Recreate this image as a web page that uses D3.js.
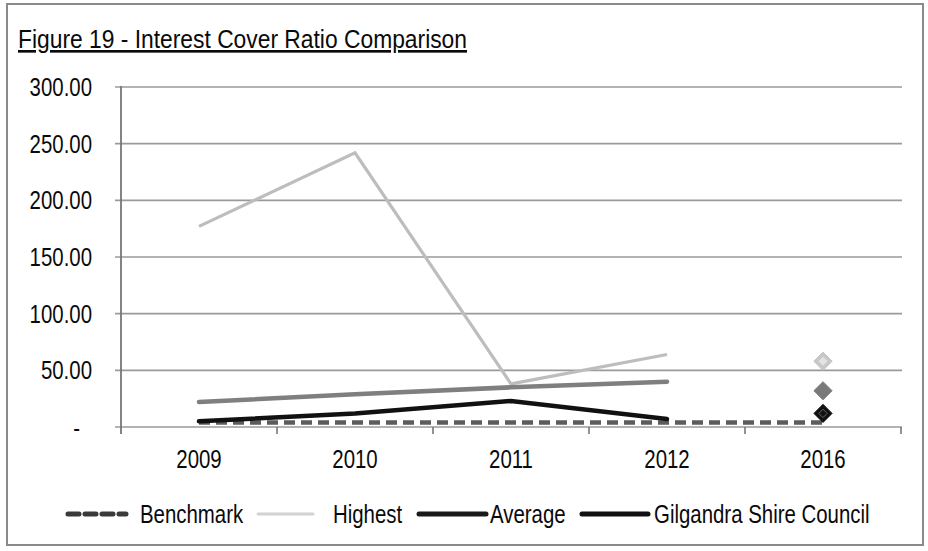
<!DOCTYPE html>
<html>
<head>
<meta charset="utf-8">
<script src="https://cdn.jsdelivr.net/npm/d3@7"></script>
<style>
  html, body { margin: 0; padding: 0; background: #fff; }
  svg text { font-family: "Liberation Sans", Arial, sans-serif; fill: #0a0a0a; }
</style>
</head>
<body>
<svg id="chart" width="928" height="551"></svg>
<script>
// Financial years shown on the x axis
const years = ["2009", "2010", "2011", "2012", "2016"];
const lineYears = ["2009", "2010", "2011", "2012"];

// Interest cover ratio by series (2009–2012)
const highest = [177, 242, 38, 64];
const average = [22, 29, 35, 40];
const gilgandra = [5, 12, 23, 7];
// Benchmark runs through every year including 2016
const benchmark = [4, 4, 4, 4, 4];

// 2016 projections, shown as diamond markers
const highest2016 = 58;
const average2016 = 32;
const gilgandra2016 = 12;

const yTicks = [0, 50, 100, 150, 200, 250, 300];
const yTickLabels = ["-", "50.00", "100.00", "150.00", "200.00", "250.00", "300.00"];

const legendItems = ["Benchmark", "Highest", "Average", "Gilgandra Shire Council"];

const svg = d3.select("#chart");

// Outer frame
svg.append("rect")
  .attr("x", 7).attr("y", 4).attr("width", 916).attr("height", 541)
  .attr("fill", "none").attr("stroke", "#8a8a8a").attr("stroke-width", 2);

// Title (underlined)
svg.append("text")
  .attr("class", "title")
  .attr("x", 18).attr("y", 48)
  .attr("font-size", 26.5)
  .attr("text-decoration", "underline")
  .attr("textLength", 449)
  .attr("lengthAdjust", "spacingAndGlyphs")
  .text("Figure 19 - Interest Cover Ratio Comparison");

const x = d3.scaleBand().domain(years).range([121, 901]).padding(0);
const y = d3.scaleLinear().domain([0, 300]).range([427, 87]);
const cx = d => x(d) + x.bandwidth() / 2;

// Horizontal gridlines with short ticks left of the axis
svg.append("g").selectAll("line").data(yTicks).join("line")
  .attr("x1", 115).attr("x2", 902)
  .attr("y1", d => y(d)).attr("y2", d => y(d))
  .attr("stroke", "#9a9a9a").attr("stroke-width", 1.6);

// Y axis line
svg.append("line")
  .attr("x1", 121).attr("x2", 121).attr("y1", 86).attr("y2", 434)
  .attr("stroke", "#777").attr("stroke-width", 1.8);

// X axis ticks at category boundaries
const boundaries = years.map(d => x(d) + x.bandwidth());
svg.append("g").selectAll("line").data(boundaries).join("line")
  .attr("x1", d => d).attr("x2", d => d)
  .attr("y1", 427).attr("y2", 434)
  .attr("stroke", "#777").attr("stroke-width", 1.6);

// Y tick labels
svg.append("g").attr("class", "narrow").selectAll("text").data(yTicks).join("text")
  .attr("x", (d, i) => i === 0 ? 80 : 92)
  .attr("y", (d, i) => y(d) + (i === 0 ? 10 : 9))
  .attr("text-anchor", "end")
  .attr("font-size", 26)
  .text((d, i) => yTickLabels[i]);

// X tick labels
svg.append("g").attr("class", "narrow").selectAll("text").data(years).join("text")
  .attr("x", d => cx(d))
  .attr("y", 468)
  .attr("text-anchor", "middle")
  .attr("font-size", 26)
  .text(d => d);

const line = d3.line().x(d => cx(d[0])).y(d => y(d[1]));

// Benchmark dashed line
svg.append("path")
  .attr("d", line(years.map((d, i) => [d, benchmark[i]])))
  .attr("fill", "none").attr("stroke", "#5c5c5c")
  .attr("stroke-width", 4.5).attr("stroke-dasharray", "11,6");

// Highest
svg.append("path")
  .attr("d", line(lineYears.map((d, i) => [d, highest[i]])))
  .attr("fill", "none").attr("stroke", "#bdbdbd")
  .attr("stroke-width", 3.2).attr("stroke-linejoin", "miter");

// Average
svg.append("path")
  .attr("d", line(lineYears.map((d, i) => [d, average[i]])))
  .attr("fill", "none").attr("stroke", "#7f7f7f")
  .attr("stroke-width", 4.5).attr("stroke-linecap", "round");

// Gilgandra Shire Council
svg.append("path")
  .attr("d", line(lineYears.map((d, i) => [d, gilgandra[i]])))
  .attr("fill", "none").attr("stroke", "#111")
  .attr("stroke-width", 4.5).attr("stroke-linecap", "round");

// 2016 diamonds
const diamond = d3.symbol().type(d3.symbolDiamond2).size(210);
const markers = [
  { v: highest2016, fill: "#c8c8c8", stroke: "#bdbdbd" },
  { v: average2016, fill: "#7a7a7a", stroke: "#7a7a7a" },
  { v: gilgandra2016, fill: "#111", stroke: "#111" }
];
svg.append("g").selectAll("path").data(markers).join("path")
  .attr("d", diamond)
  .attr("transform", d => `translate(${cx("2016")},${y(d.v)})`)
  .attr("fill", d => d.fill).attr("stroke", d => d.stroke).attr("stroke-width", 1);
// Inner detail on the light and dark markers
svg.append("path")
  .attr("d", d3.symbol().type(d3.symbolDiamond2).size(50))
  .attr("transform", `translate(${cx("2016")},${y(highest2016)})`)
  .attr("fill", "#e4e4e4");
svg.append("path")
  .attr("d", d3.symbol().type(d3.symbolDiamond2).size(45))
  .attr("transform", `translate(${cx("2016")},${y(gilgandra2016)})`)
  .attr("fill", "none").attr("stroke", "#666").attr("stroke-width", 1);

// Legend
const ly = 514;
const legend = [
  { x1: 68, x2: 126, tx: 140, stroke: "#3a3a3a", w: 5, dash: "11,6" },
  { x1: 258, x2: 314, tx: 333, stroke: "#d2d2d2", w: 3, dash: "3,1" },
  { x1: 419, x2: 486, tx: 490, stroke: "#1a1a1a", w: 5, dash: null },
  { x1: 582, x2: 648, tx: 654, stroke: "#111", w: 5, dash: null }
];
const lg = svg.append("g").attr("class", "narrow").selectAll("g").data(legend).join("g");
lg.append("line")
  .attr("x1", d => d.x1).attr("x2", d => d.x2)
  .attr("y1", ly).attr("y2", ly)
  .attr("stroke", d => d.stroke).attr("stroke-width", d => d.w)
  .attr("stroke-linecap", "round")
  .attr("stroke-dasharray", d => d.dash);
lg.append("text")
  .attr("x", d => d.tx).attr("y", ly + 9)
  .attr("font-size", 26)
  .text((d, i) => legendItems[i]);

// Condense axis and legend text to a narrow face width
svg.selectAll(".narrow text").each(function () {
  const len = this.getComputedTextLength();
  if (len > 0) {
    d3.select(this)
      .attr("textLength", (len * 0.785).toFixed(1))
      .attr("lengthAdjust", "spacingAndGlyphs");
  }
});
</script>
</body>
</html>
